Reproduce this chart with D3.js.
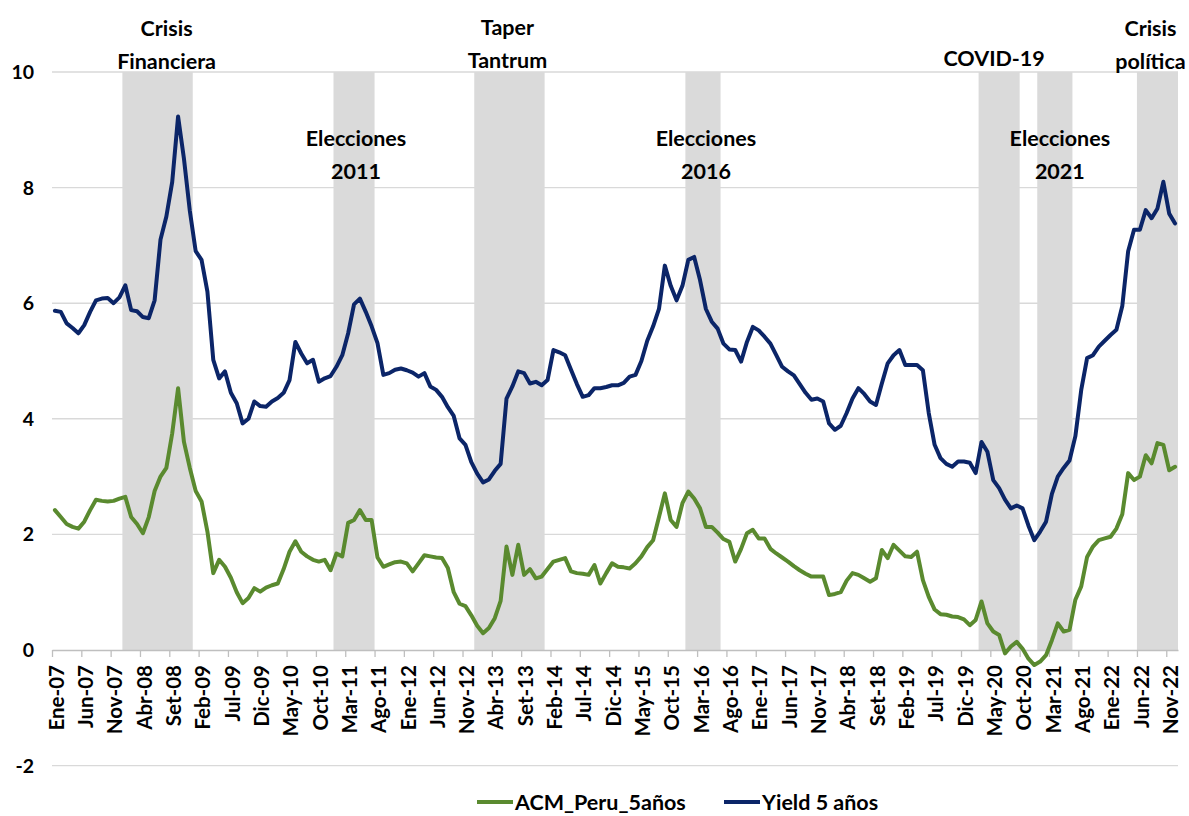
<!DOCTYPE html>
<html>
<head>
<meta charset="utf-8">
<script src="https://cdn.jsdelivr.net/npm/d3@7"></script>
<style>
  body { margin: 0; background: #ffffff; }
  svg { display: block; }
  text { font-family: Lato, "Open Sans", sans-serif; font-weight: 700; fill: #000000; }
</style>
</head>
<body>
<svg id="chart" width="1189" height="816"></svg>
<script>
// Monthly categories, Ene-07 .. Dic-22
const monthNames = ["Ene", "Feb", "Mar", "Abr", "May", "Jun", "Jul", "Ago", "Set", "Oct", "Nov", "Dic"];
const years = d3.range(2007, 2023);
const categories = years.flatMap(yr => monthNames.map(m => `${m}-${String(yr).slice(2)}`));

// Axis tick labels (every five months)
const tickLabels = [
  "Ene-07", "Jun-07", "Nov-07", "Abr-08", "Set-08", "Feb-09", "Jul-09", "Dic-09", "May-10", "Oct-10",
  "Mar-11", "Ago-11", "Ene-12", "Jun-12", "Nov-12", "Abr-13", "Set-13", "Feb-14", "Jul-14", "Dic-14",
  "May-15", "Oct-15", "Mar-16", "Ago-16", "Ene-17", "Jun-17", "Nov-17", "Abr-18", "Set-18", "Feb-19",
  "Jul-19", "Dic-19", "May-20", "Oct-20", "Mar-21", "Ago-21", "Ene-22", "Jun-22", "Nov-22"
];
const yTicks = [-2, 0, 2, 4, 6, 8, 10];

// Yield 5 años (%)
const yield5 = [
  5.87, 5.85, 5.65, 5.57, 5.48, 5.62, 5.85, 6.05, 6.08, 6.09, 6.00, 6.10,
  6.31, 5.88, 5.86, 5.76, 5.74, 6.05, 7.10, 7.50, 8.10, 9.23, 8.50, 7.60,
  6.90, 6.75, 6.20, 5.02, 4.70, 4.82, 4.45, 4.27, 3.92, 4.00, 4.30, 4.22,
  4.21, 4.30, 4.36, 4.45, 4.67, 5.33, 5.13, 4.96, 5.02, 4.64, 4.70, 4.74,
  4.90, 5.10, 5.48, 5.98, 6.08, 5.85, 5.60, 5.31, 4.76, 4.79, 4.85, 4.87,
  4.84, 4.80, 4.73, 4.79, 4.56, 4.50, 4.38, 4.20, 4.05, 3.66, 3.55, 3.25,
  3.05, 2.90, 2.95, 3.10, 3.22, 4.35, 4.56, 4.82, 4.79, 4.61, 4.64, 4.58,
  4.67, 5.19, 5.15, 5.10, 4.85, 4.60, 4.38, 4.41, 4.53, 4.53, 4.55, 4.58,
  4.58, 4.62, 4.73, 4.76, 5.00, 5.35, 5.60, 5.90, 6.65, 6.30, 6.05, 6.30,
  6.75, 6.80, 6.40, 5.90, 5.68, 5.56, 5.30, 5.20, 5.19, 4.99, 5.33, 5.59,
  5.53, 5.42, 5.30, 5.10, 4.90, 4.82, 4.75, 4.60, 4.45, 4.33, 4.35, 4.30,
  3.92, 3.81, 3.88, 4.10, 4.35, 4.53, 4.43, 4.30, 4.24, 4.61, 4.96, 5.10,
  5.19, 4.93, 4.93, 4.93, 4.84, 4.10, 3.55, 3.32, 3.22, 3.17, 3.26, 3.26,
  3.24, 3.06, 3.60, 3.43, 2.94, 2.80, 2.60, 2.45, 2.50, 2.45, 2.15, 1.90,
  2.05, 2.22, 2.70, 3.00, 3.15, 3.28, 3.70, 4.50, 5.05, 5.10, 5.25, 5.35,
  5.45, 5.54, 5.95, 6.90, 7.27, 7.27, 7.61, 7.47, 7.64, 8.10, 7.55, 7.38
];

// ACM_Peru_5años (%)
const acm = [
  2.42, 2.30, 2.18, 2.13, 2.10, 2.22, 2.42, 2.60, 2.58, 2.57, 2.58, 2.62,
  2.65, 2.30, 2.18, 2.02, 2.30, 2.75, 3.00, 3.15, 3.75, 4.53, 3.60, 3.15,
  2.75, 2.57, 2.05, 1.33, 1.56, 1.44, 1.25, 1.00, 0.81, 0.90, 1.07, 1.01,
  1.08, 1.12, 1.15, 1.40, 1.70, 1.88, 1.70, 1.62, 1.56, 1.53, 1.56, 1.38,
  1.67, 1.62, 2.20, 2.25, 2.42, 2.25, 2.25, 1.60, 1.44, 1.48, 1.52, 1.53,
  1.50, 1.36, 1.50, 1.64, 1.62, 1.60, 1.59, 1.42, 1.00, 0.80, 0.76, 0.60,
  0.42, 0.29, 0.38, 0.55, 0.85, 1.79, 1.30, 1.82, 1.30, 1.40, 1.24, 1.27,
  1.40, 1.53, 1.56, 1.59, 1.36, 1.33, 1.32, 1.30, 1.47, 1.15, 1.33, 1.50,
  1.44, 1.43, 1.41, 1.50, 1.62, 1.78, 1.90, 2.30, 2.71, 2.25, 2.13, 2.54,
  2.74, 2.62, 2.45, 2.13, 2.13, 2.03, 1.92, 1.87, 1.53, 1.75, 2.02, 2.08,
  1.93, 1.93, 1.75, 1.67, 1.60, 1.53, 1.45, 1.38, 1.32, 1.27, 1.27, 1.27,
  0.95, 0.97, 1.00, 1.20, 1.33, 1.30, 1.24, 1.18, 1.24, 1.73, 1.59, 1.82,
  1.72, 1.62, 1.61, 1.70, 1.21, 0.92, 0.70, 0.62, 0.61, 0.58, 0.57, 0.53,
  0.43, 0.52, 0.84, 0.46, 0.32, 0.26, -0.06, 0.06, 0.14, 0.02, -0.15, -0.26,
  -0.20, -0.09, 0.17, 0.46, 0.32, 0.35, 0.87, 1.10, 1.61, 1.79, 1.90, 1.93,
  1.96, 2.10, 2.35, 3.06, 2.94, 3.00, 3.37, 3.23, 3.58, 3.55, 3.11, 3.17
];

// Shaded episodes (first and last month covered)
const eventNames = [["Crisis", "Financiera"], ["Elecciones", "2011"], ["Taper", "Tantrum"],
                    ["Elecciones", "2016"], ["COVID-19"], ["Elecciones", "2021"], ["Crisis", "política"]];
const eventFrom = ["Ene-08", "Ene-11", "Ene-13", "Ene-16", "Mar-20", "Ene-21", "Jun-22"];
const eventTo   = ["Dic-08", "Jul-11", "Dic-13", "Jun-16", "Set-20", "Jun-21", "Dic-22"];

const seriesNames = ["ACM_Peru_5años", "Yield 5 años"];
const seriesColors = ["#5a8a2f", "#0b2568"];

// ---- layout ----
const left = 52, right = 1178;
const svg = d3.select("#chart");
const x = d3.scaleLinear().domain([0, categories.length]).range([left, right]);
const y = d3.scaleLinear().domain([-2, 10]).range([765.6, 72]);

// horizontal gridlines
svg.append("g").selectAll("line")
  .data(yTicks.filter(v => v !== 0))
  .join("line")
  .attr("x1", left).attr("x2", right)
  .attr("y1", d => y(d)).attr("y2", d => y(d))
  .attr("stroke", "#d9d9d9").attr("stroke-width", 1.4);

// shaded episode bands
const events = eventNames.map((lines, k) => ({
  lines,
  from: categories.indexOf(eventFrom[k]),
  to: categories.indexOf(eventTo[k]) + 1
}));
svg.append("g").selectAll("rect")
  .data(events)
  .join("rect")
  .attr("x", d => x(d.from))
  .attr("width", d => x(d.to) - x(d.from))
  .attr("y", y(10))
  .attr("height", y(0) - y(10))
  .attr("fill", "#dadada");

// y-axis labels
svg.append("g").selectAll("text")
  .data(yTicks)
  .join("text")
  .attr("x", 34)
  .attr("y", d => y(d))
  .attr("dy", "0.36em")
  .attr("text-anchor", "end")
  .style("font-size", "19.5px")
  .text(d => d);

// category axis along zero
const tickIdx = tickLabels.map(l => categories.indexOf(l));
const xAxis = d3.axisBottom(x)
  .tickValues(tickIdx)
  .tickSize(7)
  .tickSizeOuter(0)
  .tickFormat(i => categories[i]);
const gx = svg.append("g")
  .attr("transform", `translate(0,${y(0)})`)
  .call(xAxis);
gx.select(".domain").attr("stroke", "#bfbfbf").attr("stroke-width", 1.6);
gx.selectAll(".tick line").attr("stroke", "#bfbfbf").attr("stroke-width", 1.3);
const bw = x(1) - x(0);
gx.selectAll(".tick text")
  .attr("fill", "#000")
  .style("font-size", "20.5px")
  .style("font-family", "Lato, 'Open Sans', sans-serif")
  .style("font-weight", 700)
  .attr("text-anchor", "end")
  .attr("transform", `translate(${bw / 2},0) rotate(-90)`)
  .attr("x", -15)
  .attr("y", 0)
  .attr("dy", "0.4em");

// series lines
const line = d3.line()
  .x((d, i) => x(i + 0.5))
  .y(d => y(d))
  .curve(d3.curveLinear);
[acm, yield5].forEach((s, k) => {
  svg.append("path")
    .datum(s)
    .attr("fill", "none")
    .attr("stroke", seriesColors[k])
    .attr("stroke-width", 4)
    .attr("stroke-linejoin", "round")
    .attr("stroke-linecap", "round")
    .attr("d", line);
});

// episode labels
const labelPlace = [
  { dx: 9, top: 36 }, { dx: 2, top: 146 }, { dx: -2, top: 35 }, { dx: 3, top: 146 },
  { dx: -5, top: 66 }, { dx: 5, top: 146 }, { dx: -7, top: 36 }
];
const lineGap = 33;
events.forEach((ev, k) => {
  const cx = (x(ev.from) + x(ev.to)) / 2 + labelPlace[k].dx;
  const t = svg.append("text")
    .attr("text-anchor", "middle")
    .style("font-size", "21.5px");
  ev.lines.forEach((ln, j) => {
    t.append("tspan")
      .attr("x", cx)
      .attr("y", labelPlace[k].top + j * lineGap)
      .text(ln);
  });
});

// legend
const legendX = [477, 724];
const legendY = 802;
seriesNames.forEach((name, k) => {
  const g = svg.append("g").attr("transform", `translate(${legendX[k]},${legendY})`);
  g.append("line")
    .attr("x1", 0).attr("x2", 36)
    .attr("stroke", seriesColors[k])
    .attr("stroke-width", 4);
  g.append("text")
    .attr("x", 38)
    .attr("dy", "0.36em")
    .style("font-size", "21.5px")
    .text(name);
});
</script>
</body>
</html>
